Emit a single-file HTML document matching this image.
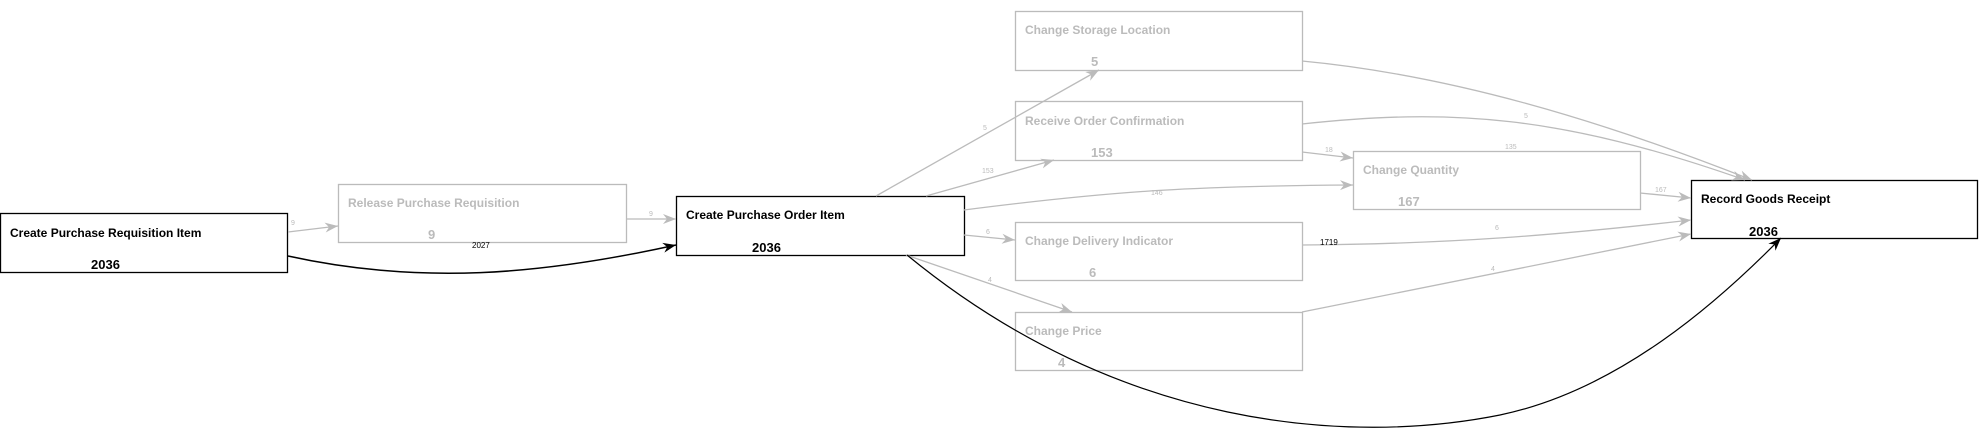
<!DOCTYPE html>
<html><head><meta charset="utf-8"><style>
html,body{margin:0;padding:0;background:#fff;}
svg{display:block;font-family:"Liberation Sans",Arial,sans-serif;}
</style></head><body>
<svg width="1986" height="432" viewBox="0 0 1986 432" xmlns="http://www.w3.org/2000/svg">
<defs>
<marker id="ag" markerWidth="14" markerHeight="12" refX="13" refY="6" orient="auto" markerUnits="userSpaceOnUse"><path d="M0,1 L13,6 L0,11 L4,6 z" fill="#bbb"/></marker>
<marker id="ab" markerWidth="14" markerHeight="12" refX="13" refY="6" orient="auto" markerUnits="userSpaceOnUse"><path d="M0,1 L13,6 L0,11 L4,6 z" fill="#000"/></marker>
</defs>
<g fill="none" stroke-width="1.3">
<rect x="338.5" y="184.5" width="288" height="58" stroke="#bbb"/>
<rect x="1015.5" y="11.5" width="287" height="59" stroke="#bbb"/>
<rect x="1015.5" y="101.5" width="287" height="59" stroke="#bbb"/>
<rect x="1353.5" y="151.5" width="287" height="58" stroke="#bbb"/>
<rect x="1015.5" y="222.5" width="287" height="58" stroke="#bbb"/>
<rect x="1015.5" y="312.5" width="287" height="58" stroke="#bbb"/>
<rect x="0.5" y="213.5" width="287" height="59" stroke="#000"/>
<rect x="676.5" y="196.5" width="288" height="59" stroke="#000"/>
<rect x="1691.5" y="180.5" width="286" height="58" stroke="#000"/>
</g>
<g fill="none" stroke="#bbb" stroke-width="1.3">
<path d="M288,232 L338,226" marker-end="url(#ag)"/>
<path d="M626,219 L676,219" marker-end="url(#ag)"/>
<path d="M876,196 L1099,70" marker-end="url(#ag)"/>
<path d="M926,196 L1054,160" marker-end="url(#ag)"/>
<path d="M964,210 C1120,190 1200,186 1353,185" marker-end="url(#ag)"/>
<path d="M964,235 L1015,240" marker-end="url(#ag)"/>
<path d="M906,255 L1072,312" marker-end="url(#ag)"/>
<path d="M1302,61 C1450,75 1600,120 1752,180" marker-end="url(#ag)"/>
<path d="M1302,124 C1450,108 1560,115 1745,180" marker-end="url(#ag)"/>
<path d="M1302,152 L1353,158" marker-end="url(#ag)"/>
<path d="M1640,193 L1691,198" marker-end="url(#ag)"/>
<path d="M1302,245 C1450,244 1560,235 1691,220" marker-end="url(#ag)"/>
<path d="M1302,312 L1691,234" marker-end="url(#ag)"/>
</g>
<g fill="none" stroke="#000" stroke-width="1.5">
<path d="M288,256 C420,285 540,275 676,245" marker-end="url(#ab)"/>
<path d="M907,255 C1120,430 1350,445 1500,415 C1620,390 1720,300 1781,238" stroke-width="1.2" marker-end="url(#ab)"/>
</g>
<g font-size="7" fill="#bbb">
<text x="291" y="225">9</text>
<text x="649" y="216">9</text>
<text x="983" y="130">5</text>
<text x="982" y="173">153</text>
<text x="1151" y="195">146</text>
<text x="986" y="234">6</text>
<text x="988" y="282">4</text>
<text x="1524" y="118">5</text>
<text x="1505" y="149">135</text>
<text x="1325" y="152">18</text>
<text x="1655" y="192">167</text>
<text x="1495" y="230">6</text>
<text x="1491" y="271">4</text>
</g>
<g font-size="8" fill="#000">
<text x="472" y="248">2027</text>
<text x="1320" y="245">1719</text>
</g>
<g font-weight="bold" font-size="12">
<g fill="#bbb">
<text x="348" y="207">Release Purchase Requisition</text>
<text x="1025" y="34">Change Storage Location</text>
<text x="1025" y="125">Receive Order Confirmation</text>
<text x="1363" y="174">Change Quantity</text>
<text x="1025" y="245">Change Delivery Indicator</text>
<text x="1025" y="335">Change Price</text>
</g>
<g fill="#000">
<text x="10" y="237">Create Purchase Requisition Item</text>
<text x="686" y="219">Create Purchase Order Item</text>
<text x="1701" y="203">Record Goods Receipt</text>
</g>
</g>
<g font-weight="bold" font-size="13">
<g fill="#bbb">
<text x="428" y="239">9</text>
<text x="1091" y="66">5</text>
<text x="1091" y="157">153</text>
<text x="1398" y="206">167</text>
<text x="1089" y="277">6</text>
<text x="1058" y="367">4</text>
</g>
<g fill="#000">
<text x="91" y="269">2036</text>
<text x="752" y="252">2036</text>
<text x="1749" y="236">2036</text>
</g>
</g>
</svg>
</body></html>
